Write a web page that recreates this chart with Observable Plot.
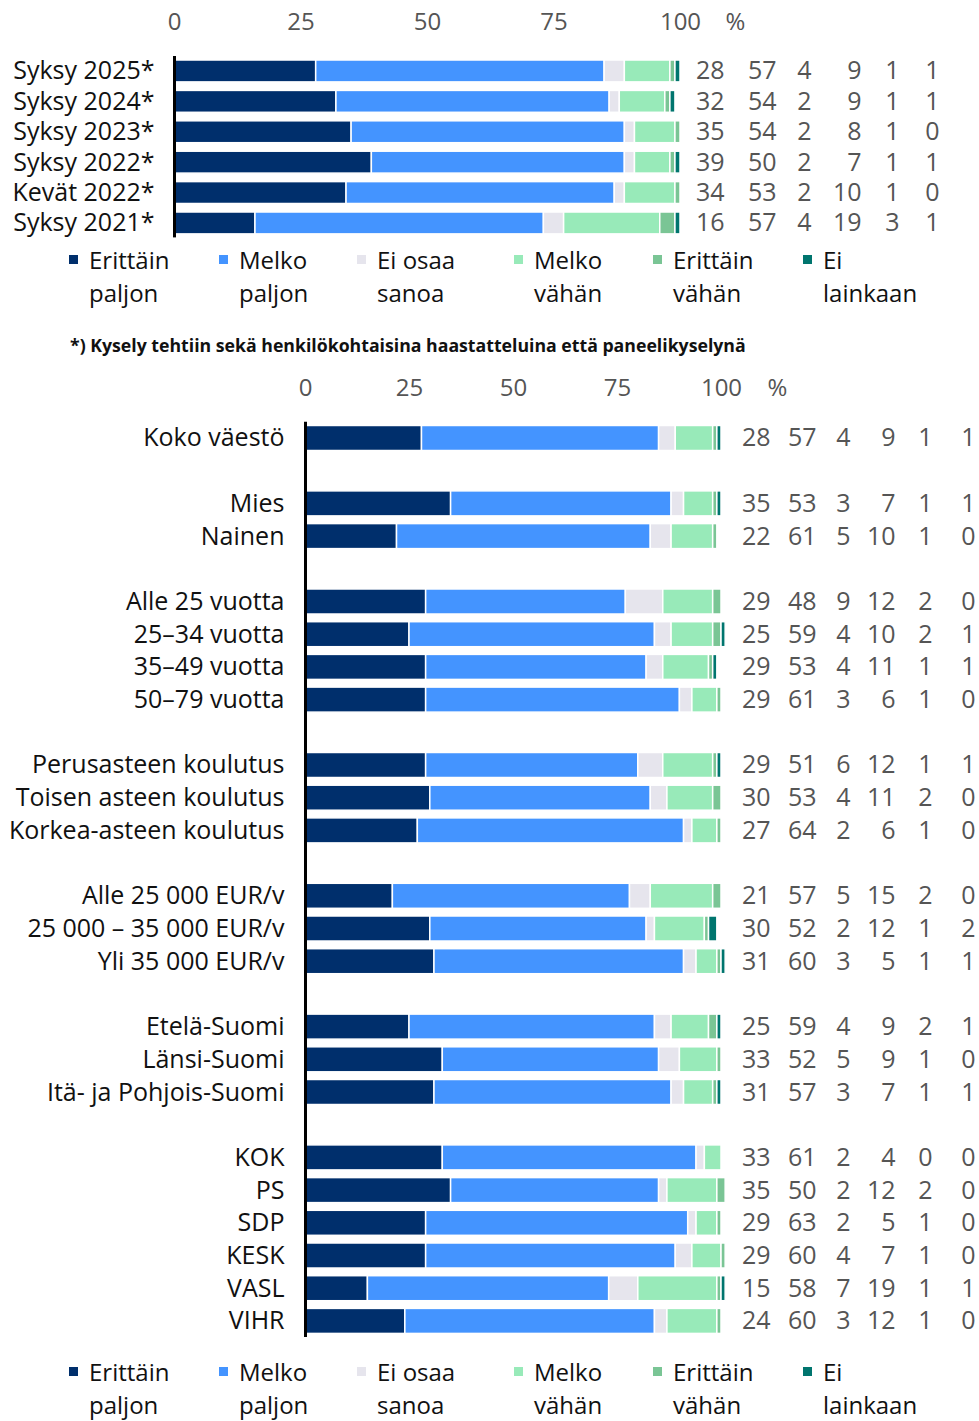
<!DOCTYPE html>
<html><head><meta charset="utf-8">
<script src="https://cdn.jsdelivr.net/npm/d3@7"></script>
<script src="https://cdn.jsdelivr.net/npm/@observablehq/plot@0.6"></script>
<style>
body{margin:0;background:#fff;font-family:"Open Sans",sans-serif;}
#root{position:relative;width:979px;height:1421px;overflow:hidden;background:#fff;}
.block{position:absolute;left:0;}
.legend{position:absolute;left:0;width:979px;height:70px;}
.item{position:absolute;top:0;font-size:24px;line-height:33px;color:#111;}
.sw{position:absolute;left:0;width:9px;height:9px;top:12px;}
.lt{position:absolute;left:20px;top:0;white-space:nowrap;}
.note{position:absolute;left:70px;top:333px;font-size:17.7px;font-weight:700;color:#111;white-space:nowrap;line-height:24px;}
</style></head><body><div id="root"></div>
<script>
// ---- data ----
const seriesNames = ["Erittäin paljon","Melko paljon","Ei osaa sanoa","Melko vähän","Erittäin vähän","Ei lainkaan"];
const seriesColors = ["#002f6c","#4494ff","#e6e5ed","#98eab9","#7ac595","#00756e"];
const xTicks = [0,25,50,75,100];
const footnote = "*) Kysely tehtiin sekä henkilökohtaisina haastatteluina että paneelikyselynä";

const topLabels = ["Syksy 2025*","Syksy 2024*","Syksy 2023*","Syksy 2022*","Kevät 2022*","Syksy 2021*"];
const topErittainPaljon = [28,32,35,39,34,16];
const topMelkoPaljon    = [57,54,54,50,53,57];
const topEiOsaaSanoa    = [4,2,2,2,2,4];
const topMelkoVahan     = [9,9,8,7,10,19];
const topErittainVahan  = [1,1,1,1,1,3];
const topEiLainkaan     = [1,1,0,1,0,1];

const bottomGroups = [
  ["Koko väestö"],
  ["Mies","Nainen"],
  ["Alle 25 vuotta","25–34 vuotta","35–49 vuotta","50–79 vuotta"],
  ["Perusasteen koulutus","Toisen asteen koulutus","Korkea-asteen koulutus"],
  ["Alle 25 000 EUR/v","25 000 – 35 000 EUR/v","Yli 35 000 EUR/v"],
  ["Etelä-Suomi","Länsi-Suomi","Itä- ja Pohjois-Suomi"],
  ["KOK","PS","SDP","KESK","VASL","VIHR"]
];
const bottomLabels = bottomGroups.flat();
const bottomErittainPaljon = [28,35,22,29,25,29,29,29,30,27,21,30,31,25,33,31,33,35,29,29,15,24];
const bottomMelkoPaljon    = [57,53,61,48,59,53,61,51,53,64,57,52,60,59,52,57,61,50,63,60,58,60];
const bottomEiOsaaSanoa    = [4,3,5,9,4,4,3,6,4,2,5,2,3,4,5,3,2,2,2,4,7,3];
const bottomMelkoVahan     = [9,7,10,12,10,11,6,12,11,6,15,12,5,9,9,7,4,12,5,7,19,12];
const bottomErittainVahan  = [1,1,1,2,2,1,1,1,2,1,2,1,1,2,1,1,0,2,1,1,1,1];
const bottomEiLainkaan     = [1,1,0,0,1,1,0,1,0,0,0,2,1,1,0,1,0,0,0,0,1,0];

// ---- chart builder ----
function makeChart(o) {
  const rows = o.labels.map((label, i) => ({label, values: o.columns.map(c => c[i])}));
  const long = rows.flatMap(r => r.values.map((v, j) => ({label: r.label, series: seriesNames[j], value: v}))).filter(d => d.value > 0);
  const marks = [
    Plot.barX(long, Plot.stackX({x: "value", y: "label", z: "series", fill: "series", stroke: "white", strokeWidth: 1.5})),
    ...o.valueDx.map((dx, j) => Plot.text(rows, {x: () => 100, y: "label", text: r => String(r.values[j]), dx, textAnchor: "end", fill: "#555", fontSize: 25})),
    Plot.axisX({anchor: "top", ticks: xTicks, tickSize: 0, tickPadding: o.tickPadding, fontSize: 24, fill: "#555", label: null}),
    Plot.text(["%"], {x: () => 100, frameAnchor: "top", text: d => d, dx: o.pctDx, dy: -o.tickPadding, lineAnchor: "bottom", fill: "#555", fontSize: 24}),
    Plot.axisY({ticks: o.labels, tickSize: 0, tickPadding: o.labelPadding, fontSize: 25, fill: "#111", label: null}),
    Plot.ruleX([0], {stroke: "#000", strokeWidth: 3, insetTop: o.ruleInsetTop, insetBottom: o.ruleInsetBottom})
  ];
  return Plot.plot({
    width: 979, height: o.height,
    marginTop: o.marginTop, marginBottom: o.marginBottom, marginLeft: o.marginLeft, marginRight: o.marginRight,
    style: {fontFamily: "'Open Sans', sans-serif", background: "white", overflow: "visible"},
    x: {domain: [0, 100]},
    y: {domain: o.domain, padding: o.padding, round: false},
    color: {domain: seriesNames, range: seriesColors},
    marks
  });
}

const root = document.getElementById("root");
function place(el, topPx) { el.classList.add("block"); el.style.top = topPx + "px"; root.appendChild(el); }

const topChart = makeChart({
  labels: topLabels,
  domain: topLabels,
  columns: [topErittainPaljon, topMelkoPaljon, topEiOsaaSanoa, topMelkoVahan, topErittainVahan, topEiLainkaan],
  height: 250, marginTop: 51.5, marginBottom: 7.6, marginLeft: 174, marginRight: 299,
  padding: 0.28, tickPadding: 22, pctDx: 55, labelPadding: 20,
  valueDx: [44, 96, 131, 181, 219, 259],
  ruleInsetTop: 4.5, ruleInsetBottom: 5
});
place(topChart, 0);

const bottomDomain = [];
bottomGroups.forEach((g, i) => { if (i > 0) bottomDomain.push("\u200b".repeat(i)); bottomDomain.push(...g); });
const bottomChart = makeChart({
  labels: bottomLabels,
  domain: bottomDomain,
  columns: [bottomErittainPaljon, bottomMelkoPaljon, bottomEiOsaaSanoa, bottomMelkoVahan, bottomErittainVahan, bottomEiLainkaan],
  height: 986, marginTop: 57.8, marginBottom: 4.9, marginLeft: 305, marginRight: 258,
  padding: 0.235, tickPadding: 22, pctDx: 56, labelPadding: 21,
  valueDx: [49, 95, 129, 174, 211, 254],
  ruleInsetTop: 4, ruleInsetBottom: 4
});
place(bottomChart, 360);

// ---- legends ----
const legendLefts = [69, 219, 357, 514, 653, 803];
function makeLegend(topPx) {
  const lg = document.createElement("div");
  lg.className = "legend";
  lg.style.top = topPx + "px";
  seriesNames.forEach((name, i) => {
    const k = name.lastIndexOf(" ");
    const it = document.createElement("div");
    it.className = "item";
    it.style.left = legendLefts[i] + "px";
    const sw = document.createElement("div");
    sw.className = "sw"; sw.style.background = seriesColors[i];
    const t = document.createElement("div");
    t.className = "lt";
    t.innerHTML = name.slice(0, k) + "<br>" + name.slice(k + 1);
    it.appendChild(sw); it.appendChild(t);
    lg.appendChild(it);
  });
  root.appendChild(lg);
}
makeLegend(243);
makeLegend(1354.5);

const note = document.createElement("div");
note.className = "note";
note.textContent = footnote;
root.appendChild(note);
</script>
</body></html>
